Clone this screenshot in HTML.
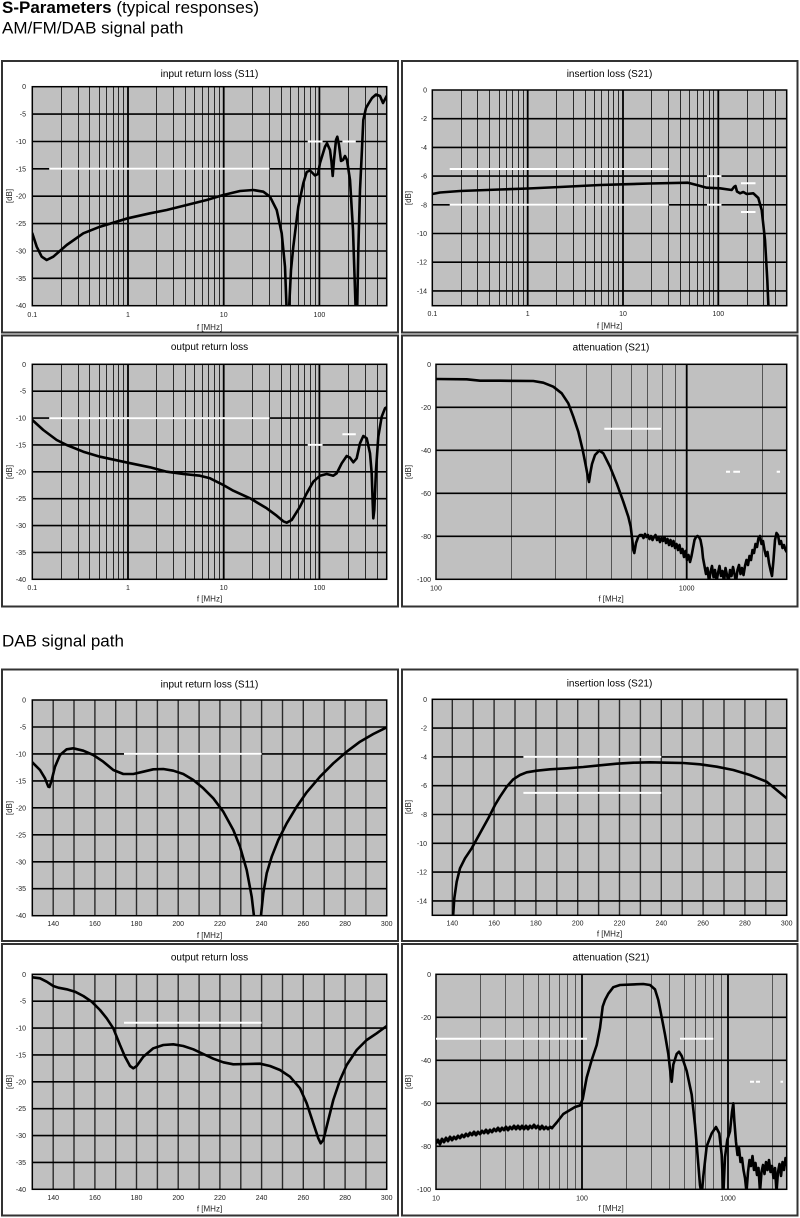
<!DOCTYPE html>
<html><head><meta charset="utf-8"><style>
html,body{margin:0;padding:0;background:#fff;}
svg{display:block;}
text{font-family:"Liberation Sans",Arial,sans-serif;}
.tl{font-size:10px;fill:#000;text-anchor:middle;}
.yl{font-size:7px;fill:#222;text-anchor:end;}
.xl{font-size:7px;fill:#222;text-anchor:middle;}
.ul{font-size:8px;fill:#222;text-anchor:middle;}
.fr{fill:#fff;stroke:#333;stroke-width:2;}
.pb{fill:#c0c0c0;}
.mn{stroke:#2a2a2a;stroke-width:1;fill:none;}
.mn2{stroke:#555;stroke-width:1;fill:none;}
.mj{stroke:#000;stroke-width:1.8;fill:none;}
.hz{stroke:#000;stroke-width:1.6;fill:none;}
.pf{fill:none;stroke:#000;stroke-width:1.5;}
.wl{stroke:#fff;stroke-width:2;fill:none;}
.cv{fill:none;stroke:#000;stroke-width:2.6;stroke-linejoin:round;stroke-linecap:round;}
</style></head><body>
<svg width="800" height="1218" viewBox="0 0 800 1218" xmlns="http://www.w3.org/2000/svg">
<defs>
<clipPath id="c1"><rect x="32.3" y="86.7" width="354.4" height="219"/></clipPath>
<clipPath id="c2"><rect x="432.3" y="90" width="354.4" height="215.7"/></clipPath>
<clipPath id="c3"><rect x="32.3" y="364.3" width="354.4" height="215"/></clipPath>
<clipPath id="c4"><rect x="436" y="364.3" width="350.7" height="215"/></clipPath>
<clipPath id="c5"><rect x="32.3" y="700" width="354.4" height="215.7"/></clipPath>
<clipPath id="c6"><rect x="432.3" y="699.3" width="354.4" height="216"/></clipPath>
<clipPath id="c7"><rect x="32.3" y="974.3" width="354.4" height="215"/></clipPath>
<clipPath id="c8"><rect x="436" y="974.3" width="350.7" height="215"/></clipPath>
</defs>

<!-- Headings -->
<text x="2" y="13" style="font-size:17px"><tspan font-weight="bold">S-Parameters</tspan> (typical responses)</text>
<text x="2" y="33.3" style="font-size:17px">AM/FM/DAB signal path</text>
<text x="2" y="646.7" style="font-size:17px">DAB signal path</text>

<!-- ============ Panel 1 ============ -->
<rect class="fr" x="2" y="61" width="396" height="271.5"/>
<text class="tl" x="209.5" y="77">input return loss (S11)</text>
<rect class="pb" x="32.3" y="86.7" width="354.4" height="219"/>
<path class="mn" d="M61.5 86.7V305.7M78.5 86.7V305.7M89.5 86.7V305.7M99.5 86.7V305.7M106.5 86.7V305.7M113.5 86.7V305.7M118.5 86.7V305.7M123.5 86.7V305.7M156.5 86.7V305.7M173.5 86.7V305.7M185.5 86.7V305.7M194.5 86.7V305.7M202.5 86.7V305.7M208.5 86.7V305.7M214.5 86.7V305.7M219.5 86.7V305.7M252.5 86.7V305.7M269.5 86.7V305.7M281.5 86.7V305.7M290.5 86.7V305.7M298.5 86.7V305.7M304.5 86.7V305.7M310.5 86.7V305.7M315.5 86.7V305.7M348.5 86.7V305.7M365.5 86.7V305.7M377.5 86.7V305.7"/>
<path class="mj" d="M128 86.7V305.7M223.7 86.7V305.7M319.4 86.7V305.7"/>
<path class="hz" d="M32.3 114.1H386.7M32.3 141.5H386.7M32.3 168.8H386.7M32.3 196.2H386.7M32.3 223.6H386.7M32.3 251H386.7M32.3 278.3H386.7"/>
<rect class="pf" x="32.3" y="86.7" width="354.4" height="219"/>
<path class="wl" d="M49.2 168.8H269.4M307.7 141.5H322.6M342.4 141.5H355.8"/>
<polyline class="cv" clip-path="url(#c1)" points="32.3,233.3 36.7,246.7 41.7,256.7 46.7,260 53.3,256.7 66.7,245 83.3,233.3 100,226.7 127.7,218.3 150,213.3 166.7,210 186.7,205 206.7,200 223.3,195 240,191 253.3,190 263.3,191.7 270,196.7 276.7,210 281.7,233.3 285,266.7 287,320 288.5,320 291,270 293.3,246.7 298.3,206.7 303.3,183.3 306.7,172 310,170.5 315,175.5 318,174 320,163 325,146.7 327,143.3 330,150 331.5,162 332.7,176 334,160 336,140 337.3,136.7 339,145 341,161 343,160 345,156 347,160 350,180 353,230 355,290 356,320 357,320 358.3,250 360,190 361.7,155 363.3,120 366,108 368.3,104 372,98 376,94.5 380,96 383,103 386.7,96"/>
<g class="yl"><text x="26" y="89.2">0</text><text x="26" y="116.6">-5</text><text x="26" y="144">-10</text><text x="26" y="171.3">-15</text><text x="26" y="198.7">-20</text><text x="26" y="226.1">-25</text><text x="26" y="253.5">-30</text><text x="26" y="280.8">-35</text><text x="26" y="308.2">-40</text></g>
<g class="xl"><text x="32.3" y="317">0.1</text><text x="128" y="317">1</text><text x="223.7" y="317">10</text><text x="319.4" y="317">100</text></g>
<text class="ul" x="209.5" y="330">f [MHz]</text>
<text class="ul" transform="translate(12,196) rotate(-90)">[dB]</text>

<!-- ============ Panel 2 ============ -->
<rect class="fr" x="402" y="61" width="395.5" height="271.5"/>
<text class="tl" x="609.5" y="77">insertion loss (S21)</text>
<rect class="pb" x="432.3" y="90" width="354.4" height="215.7"/>
<path class="mn" d="M461.5 90V305.7M477.5 90V305.7M489.5 90V305.7M499.5 90V305.7M506.5 90V305.7M512.5 90V305.7M518.5 90V305.7M523.5 90V305.7M556.5 90V305.7M573.5 90V305.7M585.5 90V305.7M594.5 90V305.7M601.5 90V305.7M608.5 90V305.7M613.5 90V305.7M618.5 90V305.7M651.5 90V305.7M668.5 90V305.7M680.5 90V305.7M689.5 90V305.7M697.5 90V305.7M703.5 90V305.7M709.5 90V305.7M713.5 90V305.7M747.5 90V305.7M763.5 90V305.7M775.5 90V305.7"/>
<path class="mj" d="M527.7 90V305.7M623 90V305.7M718.3 90V305.7"/>
<path class="hz" d="M432.3 118.7H786.7M432.3 147.4H786.7M432.3 176.1H786.7M432.3 204.8H786.7M432.3 233.5H786.7M432.3 262.2H786.7M432.3 290.9H786.7"/>
<rect class="pf" x="432.3" y="90" width="354.4" height="215.7"/>
<path class="wl" d="M449.7 169H668.5M449.7 204.8H668.5M707 176.1H721.5M707 204.8H721.5M741 183.3H755.5M741 212H755.5"/>
<polyline class="cv" clip-path="url(#c2)" points="432.3,194 440,192.5 460,191 500,189.5 528,188.5 560,187 600,185 623,184.3 650,183.5 688,182.7 696.7,185 706.7,187.7 720,188.3 731.7,190 734,187 735.5,186 737,191.5 740,193.3 743.3,192 746.7,194 753.3,193.3 758.3,198 761.7,210 765,240 767.3,280 769,320"/>
<g class="yl"><text x="427" y="92.5">0</text><text x="427" y="121.2">-2</text><text x="427" y="149.9">-4</text><text x="427" y="178.6">-6</text><text x="427" y="207.3">-8</text><text x="427" y="236">-10</text><text x="427" y="264.7">-12</text><text x="427" y="293.4">-14</text></g>
<g class="xl"><text x="432.4" y="316">0.1</text><text x="527.7" y="316">1</text><text x="623" y="316">10</text><text x="718.3" y="316">100</text></g>
<text class="ul" x="609.5" y="328.5">f [MHz]</text>
<text class="ul" transform="translate(411,198) rotate(-90)">[dB]</text>

<!-- ============ Panel 3 ============ -->
<rect class="fr" x="2" y="335.5" width="396" height="271"/>
<text class="tl" x="209.5" y="350">output return loss</text>
<rect class="pb" x="32.3" y="364.3" width="354.4" height="215"/>
<path class="mn" d="M61.5 364.3V579.3M78.5 364.3V579.3M89.5 364.3V579.3M99.5 364.3V579.3M106.5 364.3V579.3M113.5 364.3V579.3M118.5 364.3V579.3M123.5 364.3V579.3M156.5 364.3V579.3M173.5 364.3V579.3M185.5 364.3V579.3M194.5 364.3V579.3M202.5 364.3V579.3M208.5 364.3V579.3M214.5 364.3V579.3M219.5 364.3V579.3M252.5 364.3V579.3M269.5 364.3V579.3M281.5 364.3V579.3M290.5 364.3V579.3M298.5 364.3V579.3M304.5 364.3V579.3M310.5 364.3V579.3M315.5 364.3V579.3M348.5 364.3V579.3M365.5 364.3V579.3M377.5 364.3V579.3"/>
<path class="mj" d="M128 364.3V579.3M223.7 364.3V579.3M319.4 364.3V579.3"/>
<path class="hz" d="M32.3 391.2H386.7M32.3 418.1H386.7M32.3 444.9H386.7M32.3 471.8H386.7M32.3 498.7H386.7M32.3 525.6H386.7M32.3 552.4H386.7"/>
<rect class="pf" x="32.3" y="364.3" width="354.4" height="215"/>
<path class="wl" d="M49.2 418.1H269.4M307.7 444.9H322.6M342.4 434.2H355.8"/>
<polyline class="cv" clip-path="url(#c3)" points="32.3,420 43.3,430 56.7,440 66.7,445 83.3,451.7 100,456.7 127.7,462.7 150,467.3 166.7,471.7 183.3,474 200,475.7 210,478.3 223.3,485 233.3,490.7 250,498.3 266.7,508.3 276.7,515.7 283.3,521.3 286.7,522.7 291.7,520 300,506.7 306.7,493.3 313.3,481.7 320,475.7 326.7,474 333.3,475.7 336.7,473.3 341.7,463.3 346.7,456 350,457.7 353.3,462.3 356.7,458.3 360,443.3 363.3,436 366.7,438.3 370,453.3 371.7,473.3 372.7,503.3 373.3,518.3 374.3,510 376,470 378.3,436.7 381.7,416.7 385,408.3 386.7,407.3"/>
<g class="yl"><text x="26" y="366.8">0</text><text x="26" y="393.7">-5</text><text x="26" y="420.6">-10</text><text x="26" y="447.4">-15</text><text x="26" y="474.3">-20</text><text x="26" y="501.2">-25</text><text x="26" y="528.1">-30</text><text x="26" y="554.9">-35</text><text x="26" y="581.8">-40</text></g>
<g class="xl"><text x="32.3" y="590">0.1</text><text x="128" y="590">1</text><text x="223.7" y="590">10</text><text x="319.4" y="590">100</text></g>
<text class="ul" x="209.5" y="601.5">f [MHz]</text>
<text class="ul" transform="translate(12,472) rotate(-90)">[dB]</text>

<!-- ============ Panel 4 ============ -->
<rect class="fr" x="402" y="335.5" width="395.5" height="271"/>
<text class="tl" x="611" y="350.5">attenuation (S21)</text>
<rect class="pb" x="436" y="364.3" width="350.7" height="215"/>
<path class="mn2" d="M511.5 364.3V579.3M555.5 364.3V579.3M586.5 364.3V579.3M611.5 364.3V579.3M631.5 364.3V579.3M647.5 364.3V579.3M662.5 364.3V579.3M675.5 364.3V579.3M762.5 364.3V579.3"/>
<path class="mj" d="M686.7 364.3V579.3"/>
<path class="hz" d="M436 407.3H786.7M436 450.3H786.7M436 493.3H786.7M436 536.3H786.7"/>
<rect class="pf" x="436" y="364.3" width="350.7" height="215"/>
<path class="wl" d="M604.3 428.8H661M726 471.8H730M733.3 471.8H740M776.7 471.8H780"/>
<polyline class="cv" clip-path="url(#c4)" points="435.7,379 466.7,379.3 480,380.7 500,380.7 533.3,381 543.3,382.7 553.3,386.7 561.7,393.3 568.3,403.3 573.3,416.7 578.3,431.7 582.7,450 586,466.7 588.3,479 589,482 590.5,472 592,464 595,455 599.3,450.5 603.3,453.3 610,466.7 616.7,483.3 623.3,501.7 628.3,516.7 630.7,526.7 632.3,540 633.3,550 634.3,553 636,543 638.3,536.7 640,535 642,535 643.5,538 645,534 646.5,537 648,535 649.5,539 651,536 652.5,540 654,537 655.5,535 657,540 658.5,537 660,542 661.5,538 663,541 664.5,537 666,543 667.5,539 669,545 670.5,540 672,546 673.5,541 675,548 676.5,544 678,550 679.5,545 681,553 682.5,549 684,557 685.5,551 687,560 688.5,555 690,562 691.5,556 693,548 694.5,540 696,537 697.5,536 699,537 700.5,540 702,548 703,558 704.5,566 706,574 707.5,568 709,582 710.5,572 712,566 713.5,577 715,570 716.5,582 718,573 719.5,566 721,576 722.5,571 724,582 725.5,568 727,575 728.5,582 730,570 731.5,576 733,567 734.5,574 736,582 737.5,570 739,565 740.5,574 742,568 743.5,575 745,566 746.5,560 748,565 749.5,556 751,560 752.5,550 754,553 755.5,544 757,547 758.5,538 760,536 761.5,544 763,541 764.5,550 766,556 767.5,552 769,563 770.5,570 772,576 773.5,560 775,540 776.5,533 778,535 779.5,544 781,541 782.5,548 784,545 785.5,550 786.7,552"/>
<g class="yl"><text x="431" y="366.8">0</text><text x="431" y="409.8">-20</text><text x="431" y="452.8">-40</text><text x="431" y="495.8">-60</text><text x="431" y="538.8">-80</text><text x="431" y="581.8">-100</text></g>
<g class="xl"><text x="436" y="590.5">100</text><text x="686.7" y="590.5">1000</text></g>
<text class="ul" x="611" y="601.5">f [MHz]</text>
<text class="ul" transform="translate(411,472) rotate(-90)">[dB]</text>

<!-- ============ Panel 5 ============ -->
<rect class="fr" x="2" y="669.5" width="396" height="271.5"/>
<text class="tl" x="209.5" y="687.5">input return loss (S11)</text>
<rect class="pb" x="32.3" y="700" width="354.4" height="215.7"/>
<path class="mn" d="M53.2 700V915.7M74 700V915.7M94.9 700V915.7M115.7 700V915.7M136.5 700V915.7M157.4 700V915.7M178.2 700V915.7M199.1 700V915.7M219.9 700V915.7M240.8 700V915.7M261.6 700V915.7M282.5 700V915.7M303.3 700V915.7M324.2 700V915.7M345.1 700V915.7M365.9 700V915.7" style="stroke-width:1.4"/>
<path class="hz" d="M32.3 727H386.7M32.3 753.9H386.7M32.3 780.9H386.7M32.3 807.8H386.7M32.3 834.8H386.7M32.3 861.8H386.7M32.3 888.7H386.7"/>
<rect class="pf" x="32.3" y="700" width="354.4" height="215.7"/>
<path class="wl" d="M124 753.9H261.6"/>
<polyline class="cv" clip-path="url(#c5)" points="32.3,762.3 40,770 45,778.3 48.3,786.7 49.5,787 51.7,780 55,766.7 60,755 66.7,749.3 73.3,748.3 83.3,750.7 93.3,755 103.3,761.7 113.3,770 123.3,774 133.3,774 143.3,771.7 153.3,769.3 163.3,769 173.3,770.7 183.3,774 193.3,780 203.3,788.3 213.3,798.3 223.3,811.7 233.3,830 240,846.7 246.7,870 251.7,896.7 255,925 260,925 263.3,893.3 266.7,873.3 271.7,856.7 278.3,840 286.7,823.3 296.7,806.7 306.7,792.3 320,776.7 333.3,763.3 346.7,751.7 360,741.7 373.3,734 386.7,727.3"/>
<g class="yl"><text x="26" y="702.5">0</text><text x="26" y="729.5">-5</text><text x="26" y="756.4">-10</text><text x="26" y="783.4">-15</text><text x="26" y="810.3">-20</text><text x="26" y="837.3">-25</text><text x="26" y="864.3">-30</text><text x="26" y="891.2">-35</text><text x="26" y="918.2">-40</text></g>
<g class="xl"><text x="53.2" y="926">140</text><text x="94.9" y="926">160</text><text x="136.5" y="926">180</text><text x="178.2" y="926">200</text><text x="219.9" y="926">220</text><text x="261.6" y="926">240</text><text x="303.3" y="926">260</text><text x="345.1" y="926">280</text><text x="386.7" y="926">300</text></g>
<text class="ul" x="209.5" y="938">f [MHz]</text>
<text class="ul" transform="translate(12,808) rotate(-90)">[dB]</text>

<!-- ============ Panel 6 ============ -->
<rect class="fr" x="402" y="669.5" width="395.5" height="271.5"/>
<text class="tl" x="609.5" y="686.5">insertion loss (S21)</text>
<rect class="pb" x="432.3" y="699.3" width="354.4" height="216"/>
<path class="mn" d="M452.3 699.3V915.3M473.2 699.3V915.3M494.1 699.3V915.3M515 699.3V915.3M535.9 699.3V915.3M556.8 699.3V915.3M577.7 699.3V915.3M598.6 699.3V915.3M619.5 699.3V915.3M640.4 699.3V915.3M661.3 699.3V915.3M682.2 699.3V915.3M703.1 699.3V915.3M724 699.3V915.3M744.9 699.3V915.3M765.8 699.3V915.3" style="stroke-width:1.4"/>
<path class="hz" d="M432.3 728.1H786.7M432.3 756.9H786.7M432.3 785.7H786.7M432.3 814.5H786.7M432.3 843.3H786.7M432.3 872.1H786.7M432.3 900.9H786.7"/>
<rect class="pf" x="432.3" y="699.3" width="354.4" height="216"/>
<path class="wl" d="M523.4 756.9H661.3M523.4 792.9H661.3"/>
<polyline class="cv" clip-path="url(#c6)" points="452.5,925 454.3,898.3 456.7,881.7 460,868.3 465,858.3 471.7,848.3 480,833.3 488.3,818.3 495,805 500,796.7 506.7,786.7 513.3,779.3 520,775 526.7,772.3 536.7,770.7 550,769.3 566.7,768.3 583.3,767 600,765.3 616.7,763.7 633.3,762.7 650,762.3 666.7,762.7 683.3,763 700,764.3 716.7,766.7 733.3,770 750,775 766.7,781.7 786.7,798.3"/>
<g class="yl"><text x="427" y="701.8">0</text><text x="427" y="730.6">-2</text><text x="427" y="759.4">-4</text><text x="427" y="788.2">-6</text><text x="427" y="817">-8</text><text x="427" y="845.8">-10</text><text x="427" y="874.6">-12</text><text x="427" y="903.4">-14</text></g>
<g class="xl"><text x="452.3" y="925.7">140</text><text x="494.1" y="925.7">160</text><text x="535.9" y="925.7">180</text><text x="577.7" y="925.7">200</text><text x="619.5" y="925.7">220</text><text x="661.3" y="925.7">240</text><text x="703.1" y="925.7">260</text><text x="744.9" y="925.7">280</text><text x="786.7" y="925.7">300</text></g>
<text class="ul" x="609.5" y="936.7">f [MHz]</text>
<text class="ul" transform="translate(411,807) rotate(-90)">[dB]</text>

<!-- ============ Panel 7 ============ -->
<rect class="fr" x="2" y="944" width="396" height="271.5"/>
<text class="tl" x="209.5" y="960.5">output return loss</text>
<rect class="pb" x="32.3" y="974.3" width="354.4" height="215"/>
<path class="mn" d="M53.2 974.3V1189.3M74 974.3V1189.3M94.9 974.3V1189.3M115.7 974.3V1189.3M136.5 974.3V1189.3M157.4 974.3V1189.3M178.2 974.3V1189.3M199.1 974.3V1189.3M219.9 974.3V1189.3M240.8 974.3V1189.3M261.6 974.3V1189.3M282.5 974.3V1189.3M303.3 974.3V1189.3M324.2 974.3V1189.3M345.1 974.3V1189.3M365.9 974.3V1189.3" style="stroke-width:1.4"/>
<path class="hz" d="M32.3 1001.2H386.7M32.3 1028.1H386.7M32.3 1054.9H386.7M32.3 1081.8H386.7M32.3 1108.7H386.7M32.3 1135.6H386.7M32.3 1162.4H386.7"/>
<rect class="pf" x="32.3" y="974.3" width="354.4" height="215"/>
<path class="wl" d="M124 1022.7H261.6"/>
<polyline class="cv" clip-path="url(#c7)" points="32.3,977.3 40,978.3 46.7,981.7 53.3,986 58.3,987.7 66.7,989.3 75,991.7 83.3,996 91.7,1001.7 100,1010 106.7,1018.3 113.3,1028.3 120,1045 125,1056.7 130,1066 133.3,1068.3 136.7,1066 143.3,1056.7 153.3,1048.3 163.3,1045 173.3,1044.3 183.3,1046 193.3,1049.3 203.3,1054 213.3,1058.7 223.3,1062.3 233.3,1064.3 246.7,1064 260,1063.7 270,1066 280,1070 290,1076.7 300,1088.3 306.7,1103.3 313.3,1123.3 318.3,1138.3 320.7,1143.3 323.3,1140 328.3,1120 333.3,1100 340,1080 346.7,1065 356.7,1050 366.7,1040 376.7,1033.3 386.7,1026"/>
<g class="yl"><text x="26" y="976.8">0</text><text x="26" y="1003.7">-5</text><text x="26" y="1030.6">-10</text><text x="26" y="1057.4">-15</text><text x="26" y="1084.3">-20</text><text x="26" y="1111.2">-25</text><text x="26" y="1138.1">-30</text><text x="26" y="1164.9">-35</text><text x="26" y="1191.8">-40</text></g>
<g class="xl"><text x="53.2" y="1200">140</text><text x="94.9" y="1200">160</text><text x="136.5" y="1200">180</text><text x="178.2" y="1200">200</text><text x="219.9" y="1200">220</text><text x="261.6" y="1200">240</text><text x="303.3" y="1200">260</text><text x="345.1" y="1200">280</text><text x="386.7" y="1200">300</text></g>
<text class="ul" x="209.5" y="1211.5">f [MHz]</text>
<text class="ul" transform="translate(12,1082) rotate(-90)">[dB]</text>

<!-- ============ Panel 8 ============ -->
<rect class="fr" x="402" y="944" width="395.5" height="271.5"/>
<text class="tl" x="611" y="960.5">attenuation (S21)</text>
<rect class="pb" x="436" y="974.3" width="350.7" height="215"/>
<path class="mn2" d="M480.5 974.3V1189.3M505.5 974.3V1189.3M523.5 974.3V1189.3M538.5 974.3V1189.3M549.5 974.3V1189.3M559.5 974.3V1189.3M567.5 974.3V1189.3M575.5 974.3V1189.3M626.5 974.3V1189.3M651.5 974.3V1189.3M669.5 974.3V1189.3M684.5 974.3V1189.3M695.5 974.3V1189.3M705.5 974.3V1189.3M713.5 974.3V1189.3M721.5 974.3V1189.3M772.5 974.3V1189.3"/>
<path class="mj" d="M582 974.3V1189.3M728 974.3V1189.3"/>
<path class="hz" d="M436 1017.3H786.7M436 1060.3H786.7M436 1103.3H786.7M436 1146.3H786.7"/>
<rect class="pf" x="436" y="974.3" width="350.7" height="215"/>
<path class="wl" d="M436 1038.8H587M680 1038.8H713.3M750 1081.8H754M756 1081.8H760M780.5 1081.8H783"/>
<polyline class="cv" clip-path="url(#c8)" style="stroke-width:3" points="436,1143 438,1140 440,1144 442,1139 444,1142 446,1138 448,1141 450,1137 452,1140 454,1137 456,1139 458,1136 460,1138 462,1135 464,1137 466,1134 468,1136 470,1133 472,1135 474,1132 476,1135 478,1132 480,1134 482,1131 484,1133 486,1130 488,1133 490,1130 492,1132 494,1129 496,1131 498,1128 500,1131 502,1128 504,1130 506,1127 508,1130 510,1127 512,1129 514,1126 516,1129 518,1126 520,1129 522,1126 524,1129 526,1126 528,1129 530,1126 532,1128 534,1125 536,1128 538,1126 540,1129 542,1126 544,1129 546,1127 548,1129 550,1127 552,1128"/>
<polyline class="cv" clip-path="url(#c8)" points="552,1128 556.7,1122.5 563.3,1114 570,1110 575,1107 580,1105.5 582.7,1099 586.7,1077.5 591.7,1060 596.7,1045 600,1028 602.7,1006.5 605,1000 608.3,993.7 613.3,987.2 620,985 633.3,984.4 643.3,984 650,985 655,989.4 658.3,1000 661.7,1017.3 665,1034.5 668.3,1053.9 670.7,1075 671.7,1081.8 673.3,1064.6 676.7,1053.9 679,1051.7 681.7,1056 686.7,1071 691.7,1094.7 695,1124.8 697.7,1157 700,1185 701.7,1195 703.3,1176.4 706.7,1146.3 711.7,1133.4 716,1127 719.3,1133.4 721.7,1154.9 723.3,1195 725,1157 727.3,1139.9 730,1131.3 732,1111.9 733.3,1103.3 734.3,1120.5 736,1142 737.5,1155 739,1148 740.5,1162 742,1158 743.5,1170 745,1178 746.5,1192 748,1172 749.5,1160 751,1166 752.5,1156 754,1170 755.5,1163 757,1175 758.5,1168 760,1192 761.5,1172 763,1165 764.5,1174 766,1162 767.5,1170 769,1160 770.5,1172 772,1166 773.5,1178 775,1168 776.5,1192 778,1172 779.5,1164 781,1176 782.5,1162 784,1170 785.5,1158 786.7,1165"/>
<g class="yl"><text x="431" y="976.8">0</text><text x="431" y="1019.8">-20</text><text x="431" y="1062.8">-40</text><text x="431" y="1105.8">-60</text><text x="431" y="1148.8">-80</text><text x="431" y="1191.8">-100</text></g>
<g class="xl"><text x="436" y="1200.5">10</text><text x="582" y="1200.5">100</text><text x="728" y="1200.5">1000</text></g>
<text class="ul" x="611" y="1211">f [MHz]</text>
<text class="ul" transform="translate(411,1082) rotate(-90)">[dB]</text>
</svg>
</body></html>
